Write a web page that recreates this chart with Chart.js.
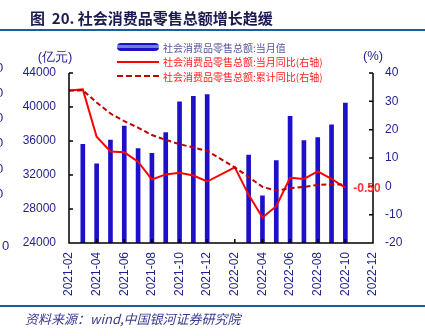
<!DOCTYPE html>
<html>
<head>
<meta charset="utf-8">
<script src="https://cdn.jsdelivr.net/npm/chart.js@4.4.1/dist/chart.umd.min.js"></script>
<style>
  body { margin: 0; background: #fff; }
  #wrap { position: relative; width: 425px; height: 336px; overflow: hidden; font-family: "Liberation Sans", Arial, sans-serif; }
  #chart { position: absolute; left: 0; top: 0; }
  .title { position: absolute; left: 30px; top: 7px; font: bold 15px "Noto Sans CJK SC", sans-serif; color: #1a1a50; white-space: nowrap; }
  .rule { position: absolute; left: 0; width: 425px; height: 2px; background: #1f5c9c; }
  .source { position: absolute; left: 25px; top: 309px; font: italic 13px "Noto Sans CJK SC", serif; color: #3a3a90; white-space: nowrap; }
  .cut { position: absolute; font: 13px "Liberation Sans", Arial, sans-serif; color: #1f1f8f; }
  #legend { position: absolute; left: 117px; top: 40px; }
  .item { display: flex; align-items: center; height: 14.5px; font: 10px "Noto Sans CJK SC", sans-serif; white-space: nowrap; }
  .swatch { width: 42px; height: 8px; margin-right: 4px; box-sizing: border-box; }
</style>
</head>
<body>
<div id="wrap">
  <canvas id="chart" width="425" height="336"></canvas>
  <div class="title">图&nbsp;&nbsp;20. 社会消费品零售总额增长趋缓</div>
  <div class="rule" style="top:29px"></div>
  <div class="rule" style="top:305px"></div>
  <div class="source">资料来源：wind,中国银河证券研究院</div>
  <div id="legend"></div>
</div>
<script>
// Months on the x axis
const months = ['2021-02', '2021-03', '2021-04', '2021-05', '2021-06', '2021-07', '2021-08', '2021-09',
    '2021-10', '2021-11', '2021-12', '2022-01', '2022-02', '2022-03', '2022-04', '2022-05', '2022-06',
    '2022-07', '2022-08', '2022-09', '2022-10', '2022-11', '2022-12'];

// Retail sales, monthly value (亿元)
const retailValue = [null, 35600, 33300, 36100, 37750, 35100, 34550, 37000, 40600, 41250, 41450,
    null, null, 34350, 29550, 33700, 38900, 36050, 36400, 37900, 40450, null, null];

// Year on year, single month (%)
const monthYoY = [33.8, 34.2, 17.5, 12.3, 12.0, 8.7, 2.4, 4.2, 4.8, 3.8, 1.7,
    null, 6.7, -3.0, -11.0, -7.0, 3.0, 2.6, 5.3, 2.6, -0.5, null, null];

// Year on year, cumulative (%)
const cumYoY = [33.8, 33.9, 29.6, 25.7, 23.0, 20.7, 18.1, 16.4, 14.9, 13.7, 12.5,
    null, 6.7, 3.3, -0.2, -1.5, -0.7, -0.2, 0.5, 0.7, 0.6, null, null];

// Tick values of both y axes
const leftTicks = [24000, 28000, 32000, 36000, 40000, 44000];
const rightTicks = [-20, -10, 0, 10, 20, 30, 40];

const seriesNames = ['社会消费品零售总额:当月值', '社会消费品零售总额:当月同比(右轴)', '社会消费品零售总额:累计同比(右轴)'];

const navy = '#1f1f8f';
const barBlue = '#1e10c8';

// Draws axis lines, inward ticks, axis titles and the last value label
const axesPlugin = {
    id: 'axesPlugin',
    afterDraw(chart) {
        const ctx = chart.ctx;
        const a = chart.chartArea;
        const x = chart.scales.x, y = chart.scales.y, y1 = chart.scales.y1;
        ctx.save();
        ctx.strokeStyle = '#000';
        ctx.lineWidth = 1.5;
        ctx.beginPath();
        ctx.moveTo(a.left, a.top); ctx.lineTo(a.left, a.bottom); ctx.lineTo(a.right, a.bottom); ctx.lineTo(a.right, a.top);
        leftTicks.forEach(v => { const py = y.getPixelForValue(v); ctx.moveTo(a.left, py); ctx.lineTo(a.left + 4, py); });
        rightTicks.forEach(v => { const py = y1.getPixelForValue(v); ctx.moveTo(a.right, py); ctx.lineTo(a.right - 4, py); });
        months.forEach((m, i) => {
            if (i % 2 === 0) { const px = x.getPixelForValue(i); ctx.moveTo(px, a.bottom); ctx.lineTo(px, a.bottom - 4); }
        });
        ctx.stroke();

        // axis titles
        ctx.fillStyle = navy;
        ctx.font = '13px "Liberation Sans", Arial, sans-serif';
        ctx.textBaseline = 'middle';
        ctx.textAlign = 'center';
        ctx.fillText('(亿元)', a.left - 14, a.top - 16);
        ctx.fillText('(%)', a.right + 0, a.top - 17);

        // label on the last monthly yoy point
        const meta = chart.getDatasetMeta(1);
        const last = monthYoY.length - 1 - [...monthYoY].reverse().findIndex(v => v !== null);
        const pt = meta.data[last];
        ctx.fillStyle = '#ff3030';
        ctx.font = 'bold 12px "Liberation Sans", Arial, sans-serif';
        ctx.textAlign = 'left';
        ctx.fillText(monthYoY[last].toFixed(2), pt.x + 8, pt.y + 1);
        ctx.restore();
    }
};

const tickFont = { family: '"Liberation Sans", Arial, sans-serif', size: 12 };

const chart = new Chart(document.getElementById('chart'), {
    data: {
        labels: months,
        datasets: [{
            type: 'bar',
            label: seriesNames[0],
            data: retailValue,
            backgroundColor: barBlue,
            barThickness: 4,
            yAxisID: 'y',
            order: 3
        }, {
            type: 'line',
            label: seriesNames[1],
            data: monthYoY,
            borderColor: '#ff0000',
            borderWidth: 2,
            pointRadius: 0,
            tension: 0,
            spanGaps: true,
            yAxisID: 'y1',
            order: 2
        }, {
            type: 'line',
            label: seriesNames[2],
            data: cumYoY,
            borderColor: '#c00000',
            borderWidth: 2,
            borderDash: [5, 3],
            pointRadius: 0,
            tension: 0,
            spanGaps: true,
            yAxisID: 'y1',
            order: 1
        }]
    },
    options: {
        responsive: false,
        animation: false,
        layout: { padding: { top: 73, left: 0, right: 0, bottom: 0 } },
        plugins: { legend: { display: false }, tooltip: { enabled: false } },
        scales: {
            x: {
                offset: false,
                grid: { display: false, drawTicks: false },
                border: { display: false },
                afterFit: s => { s.height = 93; },
                ticks: {
                    autoSkip: false, minRotation: 90, maxRotation: 90, padding: 9,
                    color: navy, font: tickFont,
                    callback: (v, i) => i % 2 === 0 ? months[i] : ''
                }
            },
            y: {
                position: 'left', min: 24000, max: 44000,
                grid: { display: false, drawTicks: false },
                border: { display: false },
                afterFit: s => { s.width = 69; },
                ticks: { stepSize: 4000, padding: 13, color: navy, font: tickFont, callback: v => String(v) }
            },
            y1: {
                position: 'right', min: -20, max: 40,
                grid: { display: false, drawTicks: false },
                border: { display: false },
                afterFit: s => { s.width = 52; },
                ticks: { stepSize: 10, padding: 12, color: navy, font: tickFont, callback: v => String(v) }
            }
        }
    },
    plugins: [axesPlugin]
});

// HTML legend
const legend = document.getElementById('legend');
const swatches = [
    `background: linear-gradient(${barBlue} 0 30%, #6c7ee6 30% 65%, ${barBlue} 65%); border-radius: 4px;`,
    'height: 2px; background: #ff0000;',
    'height: 0; border-top: 2px dashed #c00000;'
];
const textColors = ['#55559a', '#ff2020', '#ff2020'];
seriesNames.forEach((name, i) => {
    const row = document.createElement('div');
    row.className = 'item';
    row.innerHTML = `<div class="swatch" style="${swatches[i]}"></div><span style="color:${textColors[i]}">${name}</span>`;
    legend.appendChild(row);
});

// partly cut digits of the neighbouring chart at the left edge
[68, 93, 118, 143, 169, 194].forEach(t => {
    const d = document.createElement('div');
    d.className = 'cut';
    d.style.left = '-4px';
    d.style.top = (t - 8) + 'px';
    d.textContent = '0';
    document.getElementById('wrap').appendChild(d);
});
const z = document.createElement('div');
z.className = 'cut';
z.style.left = '2px';
z.style.top = '238px';
z.textContent = '0';
document.getElementById('wrap').appendChild(z);
</script>
</body>
</html>
